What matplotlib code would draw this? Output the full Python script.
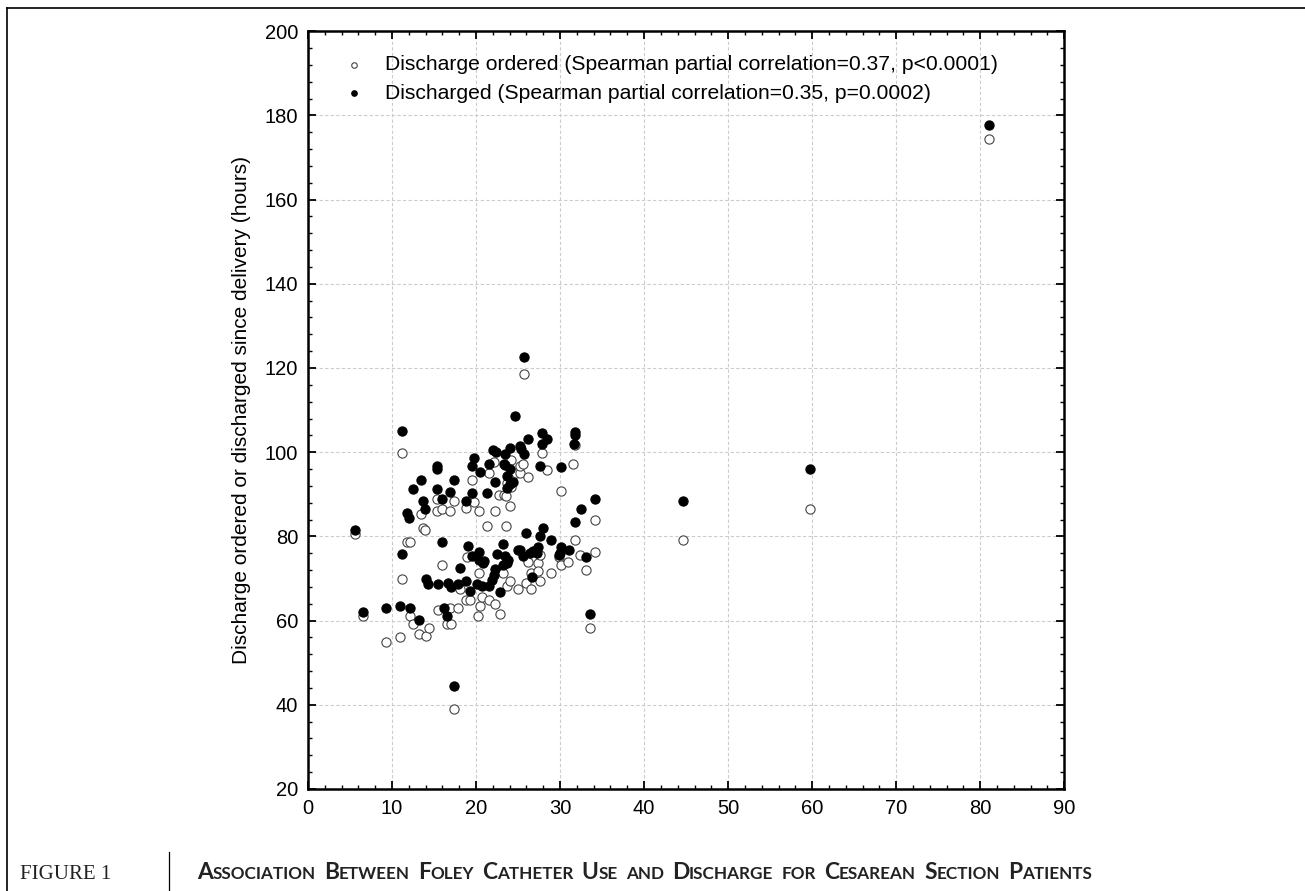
import matplotlib
matplotlib.use("Agg")
import matplotlib.pyplot as plt
from matplotlib.lines import Line2D
from matplotlib.ticker import MultipleLocator

# Foley catheter duration (hours) vs. hours since delivery
ordered_x = [5.6, 6.5, 9.3, 10.9, 11.15, 11.15, 11.8, 12.1, 12.1, 12.5, 13.2, 13.45, 13.7, 13.9,
             14.1, 14.4, 15.3, 15.3, 15.5, 16.0, 16.0, 16.5, 16.9, 16.9, 17.0, 17.4, 17.4, 17.8,
             18.1, 18.8, 18.8, 18.9, 19.3, 19.5, 19.7, 20.2, 20.4, 20.4, 20.5, 20.7, 21.35, 21.5,
             21.5, 22.1, 22.3, 22.3, 22.7, 22.8, 23.25, 23.3, 23.6, 23.6, 23.65, 23.65, 24.0, 24.0,
             24.2, 24.2, 24.8, 25.0, 25.2, 25.2, 25.6, 25.75, 26.0, 26.2, 26.2, 26.6, 26.6, 27.4,
             27.4, 27.6, 27.6, 27.8, 28.5, 28.9, 29.9, 30.1, 30.1, 31.0, 31.5, 31.8, 31.8, 32.4,
             33.1, 33.6, 34.1, 34.1, 44.6, 59.8, 81.0]
ordered_y = [80.5, 61.1, 55.0, 56.0, 99.9, 69.8, 78.7, 78.7, 61.1, 59.2, 56.8, 85.2, 82.1, 81.5,
             56.3, 58.3, 88.8, 86.0, 62.5, 86.4, 73.2, 59.2, 86.0, 62.9, 59.2, 88.4, 38.9, 62.9,
             67.4, 86.8, 64.8, 75.0, 64.8, 93.4, 88.2, 61.1, 86.0, 71.2, 63.5, 65.5, 82.5, 95.1,
             64.9, 97.7, 86.0, 64.0, 89.8, 61.6, 71.2, 89.9, 89.5, 82.4, 92.6, 68.2, 87.1, 69.5,
             98.1, 91.8, 95.1, 67.4, 95.1, 96.7, 97.2, 118.5, 69.0, 94.0, 74.0, 71.4, 67.4, 73.6,
             71.7, 75.6, 69.5, 99.9, 95.8, 71.4, 75.2, 73.2, 90.7, 74.0, 97.1, 101.7, 79.1, 75.6,
             71.9, 58.3, 83.8, 76.4, 79.1, 86.5, 174.5]

discharged_x = [5.6, 6.5, 9.3, 10.9, 11.15, 11.15, 11.75, 12.0, 12.1, 12.5, 13.2, 13.45, 13.7, 13.9,
                14.1, 14.3, 15.3, 15.3, 15.3, 15.5, 16.0, 16.0, 16.2, 16.5, 16.7, 16.9, 17.0, 17.4,
                17.4, 17.9, 18.1, 18.8, 18.8, 19.0, 19.3, 19.5, 19.5, 19.5, 19.7, 20.1, 20.4, 20.4,
                20.5, 20.7, 20.8, 21.0, 21.35, 21.5, 21.6, 21.85, 22.0, 22.1, 22.3, 22.3, 22.4, 22.45,
                22.8, 23.2, 23.25, 23.3, 23.5, 23.5, 23.5, 23.65, 23.65, 23.65, 23.85, 24.0, 24.0,
                24.1, 24.4, 24.6, 25.0, 25.2, 25.2, 25.4, 25.6, 25.7, 25.75, 26.0, 26.2, 26.4, 26.7,
                26.8, 27.2, 27.4, 27.6, 27.6, 27.8, 27.8, 28.0, 28.5, 28.9, 29.9, 30.0, 30.1, 30.1,
                31.1, 31.6, 31.8, 31.8, 31.8, 32.5, 33.1, 33.6, 34.1, 44.6, 59.8, 81.0]
discharged_y = [81.5, 62.1, 62.9, 63.5, 105.0, 75.8, 85.6, 84.3, 62.9, 91.2, 60.1, 93.4, 88.4, 86.5,
                69.8, 68.6, 96.7, 96.1, 91.2, 68.6, 88.8, 78.6, 62.9, 61.1, 69.0, 90.6, 67.9, 93.4,
                44.5, 68.8, 72.6, 88.4, 69.4, 77.7, 67.1, 96.7, 90.2, 75.3, 98.5, 68.8, 76.4, 74.4,
                95.4, 68.2, 73.7, 74.2, 90.2, 68.1, 97.1, 69.6, 100.6, 70.8, 93.0, 72.2, 100.0, 75.8,
                66.7, 78.2, 73.2, 97.2, 96.9, 99.6, 75.3, 94.3, 91.6, 73.6, 74.4, 95.9, 92.4,
                100.9, 93.0, 108.7, 76.8, 101.5, 76.8, 100.7, 75.3, 99.6, 122.7, 80.9, 103.1, 76.0, 70.3,
                76.6, 76.0, 77.4, 96.7, 80.1, 104.6, 101.9, 81.9, 103.1, 79.1, 75.6, 76.1, 77.4, 96.4,
                76.8, 101.9, 104.7, 104.0, 83.3, 86.4, 75.0, 61.6, 88.8, 88.4, 96.0, 177.8]

label_ordered = "Discharge ordered (Spearman partial correlation=0.37, p<0.0001)"
label_discharged = "Discharged (Spearman partial correlation=0.35, p=0.0002)"
ylabel = "Discharge ordered or discharged since delivery (hours)"

plt.rcParams['font.family'] = ['Liberation Sans', 'DejaVu Sans']

fig = plt.figure(figsize=(13.05, 8.91), dpi=100)
ax = fig.add_axes([0.236, 0.1145, 0.5795, 0.8505])

ax.scatter(ordered_x, ordered_y, s=44, facecolors='white', edgecolors='#444444',
           linewidths=0.8, label=label_ordered, zorder=3)
ax.scatter(discharged_x, discharged_y, s=44, facecolors='black', edgecolors='black',
           linewidths=0.8, label=label_discharged, zorder=4)

ax.set_xlim(0, 90)
ax.set_ylim(20, 200)
ax.xaxis.set_major_locator(MultipleLocator(10))
ax.xaxis.set_minor_locator(MultipleLocator(2))
ax.yaxis.set_major_locator(MultipleLocator(20))
ax.yaxis.set_minor_locator(MultipleLocator(4))
ax.tick_params(which='both', direction='in', top=True, right=True, labelsize=14.5, color='black')
ax.tick_params(which='major', length=6, width=1.3, pad=7)
ax.tick_params(which='minor', length=3, width=1.0)
for sp in ax.spines.values():
    sp.set_linewidth(1.8)
ax.grid(True, which='major', color='#cccccc', linestyle=(0, (3, 2)), linewidth=0.8)
ax.set_axisbelow(True)

ax.set_ylabel(ylabel, fontsize=15, labelpad=10)

leg = ax.legend(loc='upper left', bbox_to_anchor=(0.027, 0.985), frameon=False,
                fontsize=15.2, markerscale=0.6, handletextpad=0.9, labelspacing=0.45,
                handlelength=1.2, borderaxespad=0.2)

# page frame lines
fig.add_artist(Line2D([7 / 1305, 1.0], [1 - 8 / 891, 1 - 8 / 891], color='black', linewidth=1.2))
fig.add_artist(Line2D([7 / 1305, 7 / 1305], [0, 1 - 8 / 891], color='black', linewidth=1.2))
fig.add_artist(Line2D([169 / 1305, 169 / 1305], [0, 1 - 852 / 891], color='black', linewidth=0.9))

# caption
base_y = 1 - 879 / 891
fig.text(20 / 1305, base_y, "FIGURE 1", fontsize=15, family=['Liberation Serif'],
         va='baseline', ha='left', color='#222222')

title_words = ["Association", "Between", "Foley", "Catheter", "Use", "and", "Discharge",
               "for", "Cesarean", "Section", "Patients"]
prev = None
x0 = 197 / 1305
for i, w in enumerate(title_words):
    pieces = []
    if w[0].isupper():
        pieces.append((w[0], 16.4))
        pieces.append((w[1:].upper(), 12.3))
    else:
        pieces.append((w.upper(), 12.3))
    if i < len(title_words) - 1:
        pieces.append(("  ", 12.0))
    for txt, sz in pieces:
        kw = dict(fontsize=sz, family=['Lato', 'DejaVu Sans'], fontweight='bold',
                  color='#222222', va='baseline', ha='left')
        if prev is None:
            prev = fig.text(x0, base_y, txt, **kw)
        else:
            prev = fig.add_artist(plt.Annotation(txt, xy=(1, base_y),
                                                 xycoords=(prev, 'figure fraction'), **kw))

fig.savefig("out.png", dpi=100)
